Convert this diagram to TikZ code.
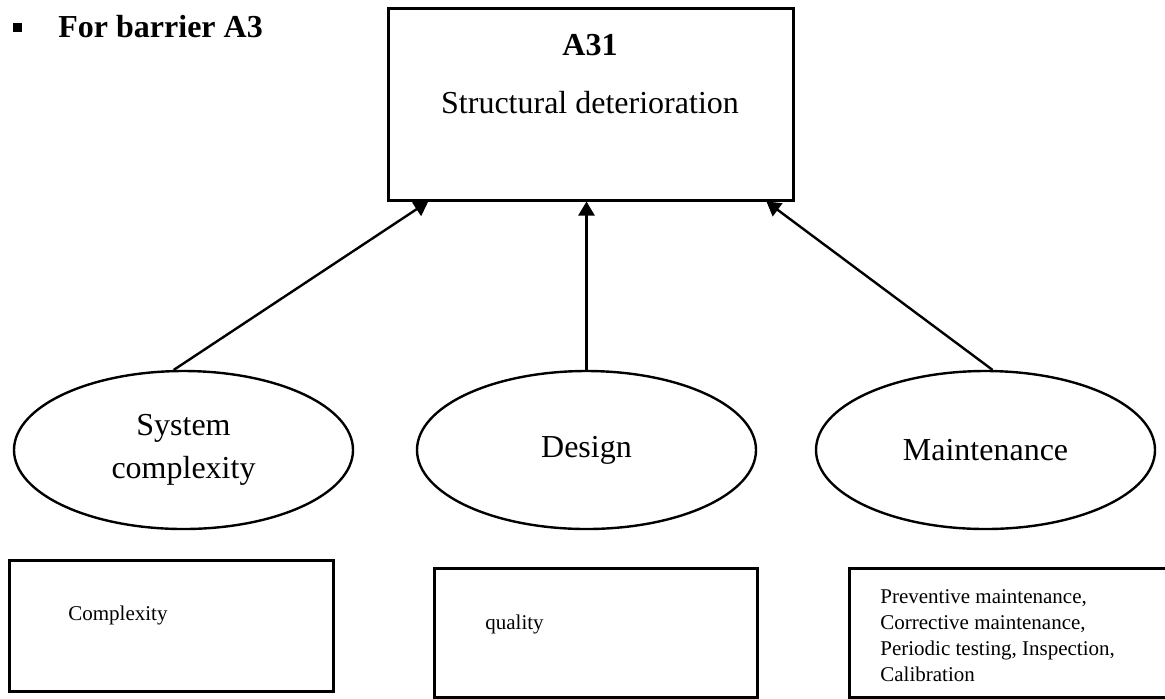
\documentclass[tikz,border=0pt]{standalone}
\usepackage{fontspec}
\setmainfont{Liberation Serif}
\usepackage{tikz}
\usetikzlibrary{shapes}
\usetikzlibrary{arrows.meta}
\tikzstyle{block}=[rectangle,draw=black,line width=1.5pt,inner sep=0mm]
\tikzstyle{factor}=[ellipse,draw=black,line width=1.2pt,inner sep=0mm,minimum width=169.5pt,minimum height=79pt,align=center,font=\fontsize{16}{21.5}\selectfont]
\tikzstyle{big}=[inner sep=0mm,font=\fontsize{16}{19}\selectfont]
\tikzstyle{small}=[inner sep=0mm,align=left,font=\fontsize{10.5}{13}\selectfont]
\tikzstyle{arrow}=[->,>={Triangle[length=7pt,width=8pt]},line width=1.2pt]

\begin{document}
\begin{tikzpicture}[x=0.5pt,y=-0.5pt]
          \useasboundingbox (0,0) rectangle (1165,698);
          % heading
          \node[fill=black,minimum size=4.5pt,inner sep=0mm] at (17.5,27) (bullet) {};
          \node[big,anchor=base west] at (58,37) (title) {\textbf{For barrier A3}};
          % top event
          \node[block,minimum width=202.5pt,minimum height=96pt] at (590.5,104) (a31) {};
          \node[big,anchor=base] at (590,55) (a31name) {\textbf{A31}};
          \node[big,anchor=base] at (590,113) (a31text) {Structural deterioration};
          % factors
          \node[factor] at (183.5,450) (sys) {System\\complexity};
          \node[factor] at (586.5,450) (des) {Design};
          \node[factor] at (985.5,450) (mnt) {Maintenance};
          \draw [arrow] (sys.97) -- (a31.211.7);
          \draw [arrow] (des.north) -- (des.north |- a31.south);
          \draw [arrow] (mnt.85) -- (a31.331.9);
          % attributes
          \node[block,minimum width=162pt,minimum height=65.5pt] at (171,625.5) (sysatt) {};
          \node[block,minimum width=161.5pt,minimum height=64.5pt] at (595.5,632.5) (desatt) {};
          \node[block,minimum width=159.5pt,minimum height=64.5pt] at (1008.5,632.5) (mntatt) {};
          \node[small,anchor=base west] at (68,620) (systxt) {Complexity};
          \node[small,anchor=base west] at (485,629) (destxt) {quality};
          \node[small,anchor=north west] at (880,589) (mnttxt) {Preventive maintenance,\\Corrective maintenance,\\Periodic testing, Inspection,\\Calibration};
        \end{tikzpicture}
\end{document}
